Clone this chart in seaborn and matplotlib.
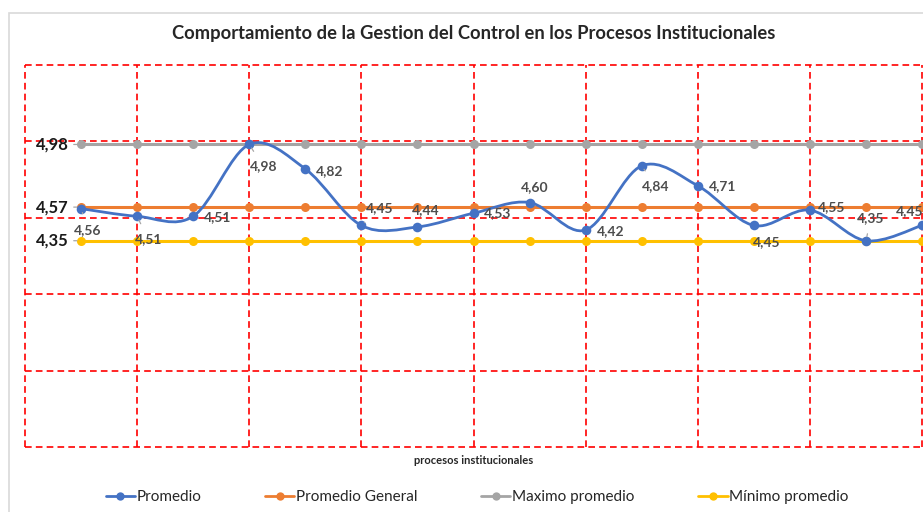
import numpy as np
import matplotlib
matplotlib.use("Agg")
import matplotlib.pyplot as plt
from matplotlib.path import Path
from matplotlib.patches import PathPatch, Rectangle
from matplotlib.lines import Line2D
import seaborn as sns

# data
procesos = list(range(1, 17))
promedio = [4.56, 4.51, 4.51, 4.98, 4.82, 4.45, 4.44, 4.53, 4.60, 4.42, 4.84, 4.71, 4.45, 4.55, 4.35, 4.45]
promedio_general = [4.57] * 16
maximo_promedio = [4.98] * 16
minimo_promedio = [4.35] * 16
etiquetas = ["4,56", "4,51", "4,51", "4,98", "4,82", "4,45", "4,44", "4,53",
             "4,60", "4,42", "4,84", "4,71", "4,45", "4,55", "4,35", "4,45"]

# label offsets (pixels) and whether a leader line is drawn
label_pos = [(7, -21, True), (11, -23, True), (24, -1, False), (14, -22, True),
             (24, -2, False), (18, 17, True), (8, 17, False), (24, 0, False),
             (5, 15, False), (25, -1, False), (14, -20, True), (25, 0, False),
             (13, -17, False), (22, 3, False), (5, 23, True), (-12, 14, False)]

AZUL = "#4472C4"
NARANJA = "#ED7D31"
GRIS = "#A5A5A5"
AMARILLO = "#FFC000"

sns.set_theme(style="white")
plt.rcParams['font.family'] = ['Lato', 'DejaVu Sans']

fig = plt.figure(figsize=(9.23, 5.12), dpi=100)
ax = fig.add_axes([25 / 923, 1 - 447 / 512, (922 - 25) / 923, (447 - 65) / 512])

# chart border (light gray)
fig.patches.append(Rectangle((9 / 923, -0.1), 1.2, 1 - 13 / 512 + 0.1, transform=fig.transFigure,
                             fill=False, edgecolor="#D9D9D9", lw=1.2))

# flat reference series
for serie, col in [(maximo_promedio, GRIS), (promedio_general, NARANJA), (minimo_promedio, AMARILLO)]:
    sns.lineplot(x=procesos, y=serie, ax=ax, color=col, lw=2.2, marker="o", markersize=6.5,
                 markeredgewidth=0, zorder=3)

# smoothed line (Excel style bezier through the points)
xs = np.array(procesos, dtype=float)
ys = np.array(promedio)
n = len(xs)
verts = [(xs[0], ys[0])]
codes = [Path.MOVETO]
for i in range(n - 1):
    p0 = np.array([xs[max(i - 1, 0)], ys[max(i - 1, 0)]])
    p1 = np.array([xs[i], ys[i]])
    p2 = np.array([xs[i + 1], ys[i + 1]])
    p3 = np.array([xs[min(i + 2, n - 1)], ys[min(i + 2, n - 1)]])
    c1 = p1 + (p2 - p0) / 6
    c2 = p2 - (p3 - p1) / 6
    verts += [tuple(c1), tuple(c2), tuple(p2)]
    codes += [Path.CURVE4] * 3
ax.add_patch(PathPatch(Path(verts, codes), facecolor="none", edgecolor=AZUL, lw=2, zorder=4))
sns.scatterplot(x=procesos, y=promedio, ax=ax, color=AZUL, s=48, linewidth=0, zorder=5)

# data labels
for x, y, txt, (dx, dy, lead) in zip(procesos, promedio, etiquetas, label_pos):
    ax.annotate(txt, (x, y), xytext=(dx, dy), textcoords="offset pixels",
                ha="center", va="center", fontsize=10, fontweight="bold", color="#4d4d4d",
                zorder=6, annotation_clip=False,
                arrowprops=dict(arrowstyle="-", color="#A6A6A6", lw=0.9, shrinkA=5, shrinkB=3) if lead else None)

# value labels on the left
for val, txt in [(4.98, "4,98"), (4.57, "4,57"), (4.35, "4,35")]:
    ax.annotate(txt, (1, val), xytext=(-12, 0), textcoords="offset pixels",
                ha="right", va="center", fontsize=12, fontweight="bold", color="#1a1a1a",
                arrowprops=dict(arrowstyle="-", color="#A6A6A6", lw=0.9, shrinkA=1, shrinkB=3))

ax.set_xlim(0, 16)
ax.set_ylim(3.0, 5.5)
ax.set_xticks(np.arange(0, 17, 2))
ax.set_yticks(np.arange(3.0, 5.51, 0.5))
ax.tick_params(length=0, labelbottom=False, labelleft=False)
ax.grid(True, color="#FF0000", linestyle=(0, (4, 2.5)), lw=1.2)
for gl in ax.get_xgridlines() + ax.get_ygridlines():
    gl.set_clip_on(False)
for s in ax.spines.values():
    s.set_visible(False)

ax.set_title("Comportamiento de la Gestion del Control en los Procesos Institucionales",
             fontsize=13.2, fontweight="bold", pad=19)
ax.set_xlabel("procesos institucionales", fontsize=8, fontweight="bold", labelpad=6)
ax.set_ylabel("")

handles = [Line2D([], [], color=c, lw=2, marker="o", markersize=6, markeredgewidth=0)
           for c in [AZUL, NARANJA, GRIS, AMARILLO]]
fig.legend(handles, ["Promedio", "Promedio General", "Maximo promedio", "Mínimo promedio"],
           loc="center", bbox_to_anchor=(477 / 923, 1 - 497 / 512), ncol=4, frameon=False,
           fontsize=11, handlelength=1.9, handletextpad=0.1, columnspacing=4.2)

fig.savefig("out.png", dpi=100)
